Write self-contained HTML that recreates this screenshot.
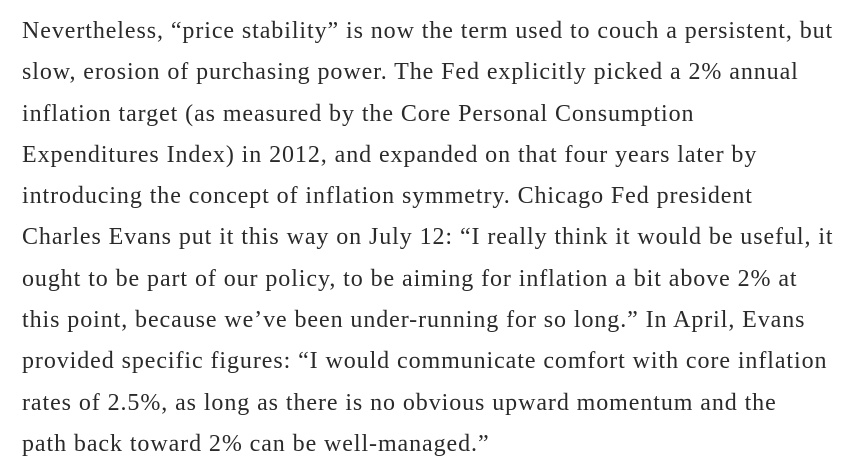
<!DOCTYPE html>
<html>
<head>
<meta charset="utf-8">
<style>
  html, body { margin: 0; padding: 0; background: #ffffff; }
  body { width: 852px; height: 473px; overflow: hidden; }
  .para {
    position: absolute; left: 22px; top: 11px;
    font-family: "Liberation Serif", serif;
    font-size: 24px; line-height: 41.3px; color: #2a2a2a;
    letter-spacing: 0.92px;
  }
  .ln { display: block; white-space: nowrap; }
</style>
</head>
<body>
<div class="para">
  <span class="ln">Nevertheless, “price stability” is now the term used to couch a persistent, but</span>
  <span class="ln">slow, erosion of purchasing power. The Fed explicitly picked a 2% annual</span>
  <span class="ln">inflation target (as measured by the Core Personal Consumption</span>
  <span class="ln">Expenditures Index) in 2012, and expanded on that four years later by</span>
  <span class="ln">introducing the concept of inflation symmetry. Chicago Fed president</span>
  <span class="ln">Charles Evans put it this way on July 12: “I really think it would be useful, it</span>
  <span class="ln">ought to be part of our policy, to be aiming for inflation a bit above 2% at</span>
  <span class="ln">this point, because we’ve been under-running for so long.” In April, Evans</span>
  <span class="ln">provided specific figures: “I would communicate comfort with core inflation</span>
  <span class="ln">rates of 2.5%, as long as there is no obvious upward momentum and the</span>
  <span class="ln">path back toward 2% can be well-managed.”</span>
</div>
</body>
</html>
